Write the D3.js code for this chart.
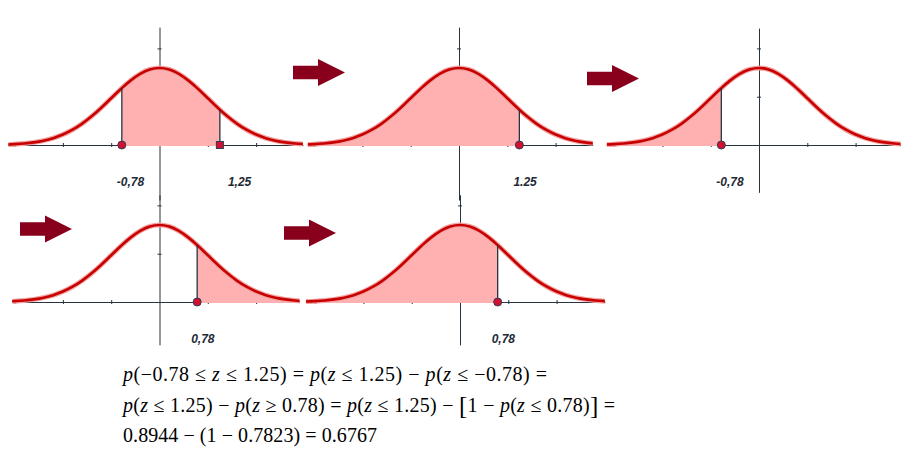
<!DOCTYPE html>
<html><head><meta charset="utf-8">
<script src="https://cdn.jsdelivr.net/npm/d3@7"></script>
<style>body{margin:0;background:#fff}svg{display:block}</style>
</head><body>
<svg id="chart" width="907" height="464"></svg>
<script>
// ---- data ----
const zValues   = [-3.2,-3.0,-2.8,-2.6,-2.4,-2.2,-2.0,-1.8,-1.6,-1.4,-1.25,-1.2,-1.0,-0.8,-0.78,-0.6,-0.4,-0.2,0,0.2,0.4,0.6,0.78,0.8,1.0,1.2,1.25,1.4,1.6,1.8,2.0,2.2,2.4,2.6,2.8,3.0,3.2];
const densities = [0.0024,0.0044,0.0079,0.0136,0.0224,0.0355,0.0540,0.0790,0.1109,0.1497,0.1826,0.1942,0.2420,0.2897,0.2943,0.3332,0.3683,0.3910,0.3989,0.3910,0.3683,0.3332,0.2943,0.2897,0.2420,0.1942,0.1826,0.1497,0.1109,0.0790,0.0540,0.0355,0.0224,0.0136,0.0079,0.0044,0.0024];
const shadeFrom   = [-0.78, null, null, 0.78, null];
const shadeTo     = [1.25, 1.25, -0.78, null, 0.78];
const markerValues = [[-0.78, 1.25], [1.25], [-0.78], [0.78], [0.78]];
const markerShapes = [["circle","square"], ["circle"], ["circle"], ["circle"], ["circle"]];
const markerLabels = [["-0,78","1,25"], ["1.25"], ["-0,78"], ["0,78"], ["0,78"]];
const xTicks = [-3,-2,-1,1,2,3];
const yTicks = [0.25, 0.5];
const formulaLines = [
  "p(−0.78 ≤ z ≤ 1.25) = p(z ≤ 1.25) − p(z ≤ −0.78) =",
  "p(z ≤ 1.25) − p(z ≥ 0.78) = p(z ≤ 1.25) − [1 − p(z ≤ 0.78)] =",
  "0.8944 − (1 − 0.7823) = 0.6767"
];

// ---- layout ----
const pxPerZ = 48.3, pxPerD = 193.2;
const panels = [
  {cx:159.5, by:145, z0:-3.13, z1:2.97, yTop:0.61, yBot:-0.285, labelDx:[-5, 8]},
  {cx:459,   by:145, z0:-3.13, z1:2.77, yTop:0.61, yBot:-0.285, labelDx:[-6]},
  {cx:759,   by:145, z0:-3.15, z1:2.93, yTop:0.605,yBot:-0.245, labelDx:[-5]},
  {cx:159.5, by:302, z0:-3.05, z1:2.90, yTop:0.555,yBot:-0.222, labelDx:[-6]},
  {cx:460,   by:302, z0:-3.19, z1:3.0,  yTop:0.555,yBot:-0.222, labelDx:[-6]}
];
const arrows = [{x:293, cy:72.5}, {x:587, cy:78.5}, {x:20, cy:229}, {x:284, cy:233}];
const formulaPos = {x:123, ys:[381, 412, 442], widths:[424, 492, 254]};

const axisColor = "#27333f", curveColor = "#c80000", fillColor = "#ffb1b1",
      arrowColor = "#88001b", markerFill = "#d3112c", markerStroke = "#2c3e5c";

const svg = d3.select("#chart");
const pts = zValues.map((z,i) => ({z, d: densities[i]}));

panels.forEach((P, i) => {
  const x = d3.scaleLinear().domain([0, 1]).range([P.cx, P.cx + pxPerZ]);
  const y = d3.scaleLinear().domain([0, 1]).range([P.by, P.by - pxPerD]);
  const g = svg.append("g");
  const clipId = "clip" + i;
  svg.append("clipPath").attr("id", clipId).append("rect")
     .attr("x", x(P.z0)).attr("y", y(0.7)).attr("width", x(P.z1) - x(P.z0)).attr("height", y(-0.1) - y(0.7));

  // x axis
  const xa = d3.scaleLinear().domain([P.z0, P.z1]).range([x(P.z0), x(P.z1)]);
  const gx = g.append("g").attr("transform", `translate(0,${P.by})`)
    .call(d3.axisBottom(xa).tickValues(xTicks.filter(t => t > P.z0 && t < P.z1)).tickSize(2).tickSizeOuter(0).tickFormat(""));
  gx.selectAll("line").attr("y1", -2).attr("y2", 2);
  // y axis
  const ya = d3.scaleLinear().domain([P.yBot, P.yTop]).range([y(P.yBot), y(P.yTop)]);
  const gy = g.append("g").attr("transform", `translate(${P.cx},0)`)
    .call(d3.axisLeft(ya).tickValues(yTicks.filter(t => t < P.yTop)).tickSize(2).tickSizeOuter(0).tickFormat(""));
  gy.selectAll("line").attr("x1", -2).attr("x2", 2);
  g.selectAll(".domain, .tick line").attr("stroke", axisColor).attr("stroke-width", 1);

  // shaded area
  const a = shadeFrom[i] === null ? -Infinity : shadeFrom[i];
  const b = shadeTo[i] === null ? Infinity : shadeTo[i];
  const sub = pts.filter(p => p.z >= a - 1e-9 && p.z <= b + 1e-9);
  const area = d3.area().x(p => x(p.z)).y0(P.by + 1).y1(p => y(p.d)).curve(d3.curveMonotoneX);
  g.append("path").attr("clip-path", `url(#${clipId})`).attr("d", area(sub)).attr("fill", fillColor);

  // curve
  const line = d3.line().x(p => x(p.z)).y(p => y(p.d)).curve(d3.curveMonotoneX);
  g.append("path").attr("clip-path", `url(#${clipId})`).attr("d", line(pts))
    .attr("fill", "none").attr("stroke", "#f2a4a4").attr("stroke-width", 5);
  g.append("path").attr("clip-path", `url(#${clipId})`).attr("d", line(pts))
    .attr("fill", "none").attr("stroke", curveColor).attr("stroke-width", 2.6);

  // boundary lines, markers, labels
  markerValues[i].forEach((v, k) => {
    const dv = densities[zValues.indexOf(v)];
    g.append("line").attr("x1", x(v)).attr("x2", x(v)).attr("y1", P.by).attr("y2", y(dv))
      .attr("stroke", axisColor).attr("stroke-width", 1.3);
    if (markerShapes[i][k] === "square") {
      g.append("rect").attr("x", x(v) - 3.5).attr("y", P.by - 3.5).attr("width", 7).attr("height", 7)
        .attr("fill", markerFill).attr("stroke", markerStroke).attr("stroke-width", 1);
    } else {
      g.append("circle").attr("cx", x(v)).attr("cy", P.by).attr("r", 4)
        .attr("fill", markerFill).attr("stroke", markerStroke).attr("stroke-width", 1);
    }
    g.append("text").attr("x", x(v) + P.labelDx[k]).attr("y", P.by + 41)
      .attr("font-family", "Liberation Sans, Arial, sans-serif").attr("font-size", 12)
      .attr("font-weight", "bold").attr("font-style", "italic").attr("fill", "#1e2a36")
      .text(markerLabels[i][k]);
  });
});

// arrows
arrows.forEach(A => {
  const p = [[A.x, A.cy - 6.7], [A.x + 25, A.cy - 6.7], [A.x + 25, A.cy - 13.5], [A.x + 52, A.cy],
             [A.x + 25, A.cy + 13.5], [A.x + 25, A.cy + 6.7], [A.x, A.cy + 6.7]];
  svg.append("path").attr("d", d3.line()(p) + "Z").attr("fill", arrowColor);
});

// formula
formulaLines.forEach((s, li) => {
  const t = svg.append("text").attr("x", formulaPos.x).attr("y", formulaPos.ys[li])
    .attr("font-family", "Liberation Serif, Times New Roman, serif").attr("font-size", 20).attr("fill", "#000")
    .attr("textLength", formulaPos.widths[li]).attr("lengthAdjust", "spacing");
  const runs = [];
  for (const ch of s) {
    const type = (ch === "p" || ch === "z") ? "it" : (ch === "[" || ch === "]") ? "br" : "n";
    if (runs.length && runs[runs.length - 1].type === type) runs[runs.length - 1].text += ch;
    else runs.push({type, text: ch});
  }
  let shifted = false;
  runs.forEach(r => {
    const ts = t.append("tspan").text(r.text);
    if (r.type === "it") ts.attr("font-style", "italic");
    if (r.type === "br") { ts.attr("font-size", 25).attr("dy", shifted ? 0 : 2); shifted = true; }
    else if (shifted) { ts.attr("dy", -2); shifted = false; }
  });
});
</script>
</body></html>
